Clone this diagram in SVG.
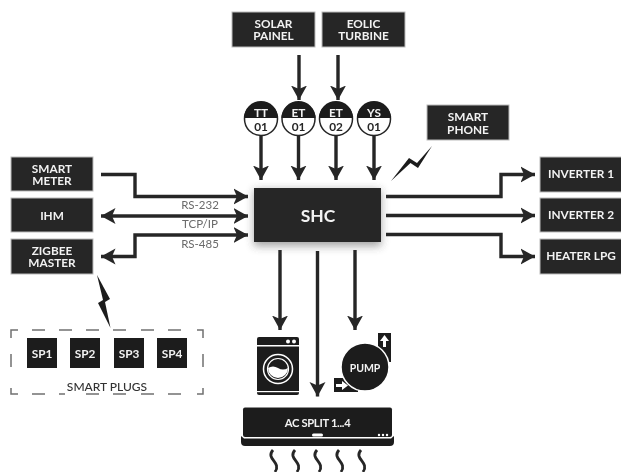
<svg xmlns="http://www.w3.org/2000/svg" width="621" height="472" viewBox="0 0 621 472">
<style>
text{font-family:Lato,"Liberation Sans",sans-serif;text-anchor:middle}
.b{fill:#262626;stroke:#bbb;stroke-width:1}
.t{fill:#f2f2f2;font-size:11.8px;font-weight:700}
.n{fill:#262626;font-size:11.8px;font-weight:700}
.c{fill:none;stroke:#262626;stroke-width:3.4;marker-end:url(#a)}
.d{fill:none;stroke:#262626;stroke-width:3.4;marker-end:url(#a);marker-start:url(#s)}
.l{fill:#6a6a6a;font-size:11.5px}
.z{fill:#1e1e1e}
.r{fill:#fff;stroke:#262626;stroke-width:1.5}
.w{fill:none;stroke:#262626;stroke-width:2.8}
.f{fill:none;stroke:#707070;stroke-width:1.5}
</style>
<defs>
<marker id="a" markerUnits="userSpaceOnUse" markerWidth="16" markerHeight="18" refX="14.500" refY="8.500" orient="auto"><path d="M0 0.500L14.500 8.500L0 16.500L3.500 8.500Z" fill="#262626"/></marker>
<marker id="s" markerUnits="userSpaceOnUse" markerWidth="16" markerHeight="18" refX="0.500" refY="8.500" orient="auto"><path d="M15 0.500L0.500 8.500L15 16.500L11.500 8.500Z" fill="#262626"/></marker>
<filter id="sh" x="-20%" y="-30%" width="140%" height="170%"><feGaussianBlur stdDeviation="4"/></filter>
<filter id="soft"><feGaussianBlur stdDeviation="0.35"/></filter>
</defs>
<rect width="621" height="472" fill="#fff"/>
<g filter="url(#soft)">
<g id="connectors">
<path class="c" d="M299 55V100"/><path class="c" d="M338 55V100"/>
<path class="c" d="M261 136V180"/><path class="c" d="M298.500 136V180"/><path class="c" d="M336 136V180"/><path class="c" d="M374 136V180"/>
<path class="c" d="M101 174.500H135V196.500H248"/>
<path class="d" d="M101 216H248"/>
<path class="d" d="M101 256.500H135V235H248"/>
<path class="c" d="M386 196.500H501V174.500H535"/>
<path class="c" d="M386 215.500H535"/>
<path class="c" d="M386 234.500H501V256.500H535"/>
<path class="c" d="M280 250V330"/><path class="c" d="M317.500 251V396.500"/><path class="c" d="M355 250V330"/>
<path class="z" d="M391 181L409 158L417 163L432 146L418 168L410.500 163Z"/>
<path class="z" d="M97 275L110 299L105 302L110.500 328L98 303L103 300Z"/>
</g>
<g id="solar"><rect class="b" x="232" y="12" width="83" height="35"/><text class="t"><tspan x="273.500" y="28">SOLAR</tspan><tspan x="273.500" y="40">PAINEL</tspan></text></g>
<g id="eolic"><rect class="b" x="322" y="12" width="83" height="35"/><text class="t"><tspan x="363.500" y="28">EOLIC</tspan><tspan x="363.500" y="40">TURBINE</tspan></text></g>
<g id="phone"><rect class="b" x="427" y="105" width="82" height="35"/><text class="t"><tspan x="468" y="121">SMART</tspan><tspan x="468" y="134">PHONE</tspan></text></g>
<g id="tt01"><circle class="r" cx="261" cy="119" r="16.500"/><path class="z" d="M244 118A17 17 0 0 1 278 118Z"/><text class="t" x="261" y="116.500">TT</text><text class="n" x="261" y="131">01</text></g>
<g id="et01"><circle class="r" cx="298.500" cy="119" r="16.500"/><path class="z" d="M281.500 118A17 17 0 0 1 315.500 118Z"/><text class="t" x="298.500" y="116.500">ET</text><text class="n" x="298.500" y="131">01</text></g>
<g id="et02"><circle class="r" cx="336" cy="119" r="16.500"/><path class="z" d="M319 118A17 17 0 0 1 353 118Z"/><text class="t" x="336" y="116.500">ET</text><text class="n" x="336" y="131">02</text></g>
<g id="ys01"><circle class="r" cx="374" cy="119" r="16.500"/><path class="z" d="M357 118A17 17 0 0 1 391 118Z"/><text class="t" x="374" y="116.500">YS</text><text class="n" x="374" y="131">01</text></g>
<g id="shc"><rect x="254" y="190" width="127" height="56" fill="#555" opacity=".55" filter="url(#sh)"/><rect x="254" y="188" width="127" height="54" fill="#262626"/><text x="318" y="222" font-size="17.500" font-weight="700" fill="#f2f2f2">SHC</text></g>
<g id="meter"><rect class="b" x="11" y="157" width="82" height="34"/><text class="t"><tspan x="52" y="172.500">SMART</tspan><tspan x="52" y="184.500">METER</tspan></text></g>
<g id="ihm"><rect class="b" x="11" y="198" width="82" height="34"/><text class="t" x="52" y="220">IHM</text></g>
<g id="zigbee"><rect class="b" x="11" y="239" width="82" height="35"/><text class="t"><tspan x="52" y="255">ZIGBEE</tspan><tspan x="52" y="267">MASTER</tspan></text></g>
<g id="inv1"><rect class="b" x="540" y="157" width="82" height="35"/><text class="t" x="581" y="178">INVERTER 1</text></g>
<g id="inv2"><rect class="b" x="540" y="198" width="82" height="34"/><text class="t" x="581" y="219">INVERTER 2</text></g>
<g id="heater"><rect class="b" x="540" y="239" width="82" height="35"/><text class="t" x="581" y="260">HEATER LPG</text></g>
<g id="labels"><text class="l" x="200" y="209">RS-232</text><text class="l" x="200" y="228">TCP/IP</text><text class="l" x="200" y="248">RS-485</text></g>
<g id="smartplugs">
<path class="f" d="M11 338V330H18M32 330H45M59 330H72M86 330H99M113 330H126M141 330H154M168 330H181M197 330H203V338M11 354V367M203 354V367M11 388V394H18M32 394H45M59 394H65M86 394H99M113 394H126M141 394H154M168 394H181M197 394H203V388"/>
<text x="107" y="391" font-size="12" font-weight="500" fill="#333">SMART PLUGS</text>
</g>
<g id="sp1"><rect class="z" x="27" y="338" width="30" height="30"/><text class="t" x="42" y="357.500">SP1</text></g>
<g id="sp2"><rect class="z" x="70" y="338" width="30" height="30"/><text class="t" x="85" y="357.500">SP2</text></g>
<g id="sp3"><rect class="z" x="114" y="338" width="30" height="30"/><text class="t" x="129" y="357.500">SP3</text></g>
<g id="sp4"><rect class="z" x="157" y="338" width="30" height="30"/><text class="t" x="172" y="357.500">SP4</text></g>
<g id="washer"><rect class="z" x="257" y="337" width="42" height="58" rx="2"/><rect x="257" y="345" width="42" height="1.500" fill="#fff"/><rect x="257" y="391" width="42" height="1.200" fill="#fff"/><circle cx="288" cy="341.500" r="2" fill="#fff"/><circle cx="294" cy="341.500" r="2" fill="#fff"/><circle cx="278" cy="369" r="14.500" fill="none" stroke="#fff" stroke-width="1.500"/><path d="M268 368Q273 365 278 368T288 368A10 10 0 0 1 268 368Z" fill="#fff"/><circle cx="278" cy="369" r="10.500" fill="none" stroke="#fff" stroke-width="1.200"/></g>
<g id="pump"><path class="z" d="M378 333H391V362H378Z"/><path class="z" d="M334 378H358V392H334Z"/><circle cx="365" cy="367" r="24" fill="#1e1e1e" stroke="#fff" stroke-width="1.500"/><path d="M384.500 335L380 341H383V347H386V341H389Z" fill="#fff"/><path d="M342 381V384H336V387H342V390L348 385.500Z" fill="#fff"/><text x="365" y="372" font-size="10.500" font-weight="700" fill="#f2f2f2">PUMP</text></g>
<g id="acsplit"><rect class="z" x="243" y="407.500" width="149" height="29.500" rx="2"/><path class="z" d="M241 436V442Q241 446 245 446H390Q394 446 394 442V436L391 438.500H244Z"/><rect x="312" y="433.500" width="11" height="3" rx="1.500" fill="#fff"/><circle cx="379" cy="435" r="1.200" fill="#fff"/><circle cx="383" cy="435" r="1.200" fill="#fff"/><circle cx="387" cy="435" r="1.200" fill="#fff"/><text x="317.500" y="427" font-size="11.200" font-weight="700" fill="#f2f2f2" letter-spacing="-.3">AC SPLIT 1...4</text></g>
<g id="heat"><path class="w" d="M273 450C265 459 282 462 275 472"/><path class="w" d="M295 450C287 459 304 462 297 472"/><path class="w" d="M317 450C309 459 326 462 319 472"/><path class="w" d="M339 450C331 459 348 462 341 472"/><path class="w" d="M361 450C353 459 370 462 363 472"/></g>
</g>
</svg>
